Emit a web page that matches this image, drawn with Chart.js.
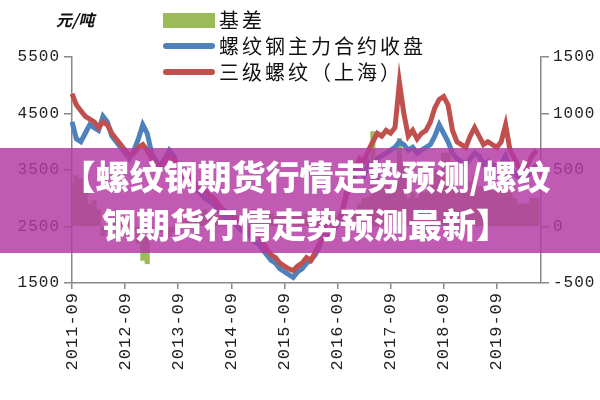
<!DOCTYPE html>
<html>
<head>
<meta charset="utf-8">
<script src="https://cdn.jsdelivr.net/npm/chart.js@4.4.0/dist/chart.umd.min.js"></script>
<style>
  body { margin: 0; background: #fff; }
  #wrap { position: relative; width: 600px; height: 400px; }
  #banner {
    position: absolute; left: 0; top: 148px; width: 600px; height: 105px;
    box-sizing: border-box; padding-top: 4px; padding-left: 12px;
    background: rgba(181, 56, 163, 0.83);
    color: #fff; font-family: "Noto Sans CJK SC"; font-weight: 900;
    font-size: 34px; line-height: 48px; text-align: center; white-space: nowrap;
  }
</style>
</head>
<body>
<div id="wrap">
  <canvas id="chart" width="600" height="400"></canvas>
  <div id="banner">【螺纹钢期货行情走势预测/螺纹<br>钢期货行情走势预测最新】</div>
</div>
<script>
// 月份: 2011-09 ... 2020-07
const months = [];
for (let y = 2011, m = 9; y < 2020 || m <= 7; m++) {
  if (m > 12) { m = 1; y++; }
  months.push(y + "-" + String(m).padStart(2, "0"));
}
const tickLabels = ["2011-09", "2012-09", "2013-09", "2014-09", "2015-09",
  "2016-09", "2017-09", "2018-09", "2019-09"];

const seriesNames = ["基差", "螺纹钢主力合约收盘", "三级螺纹（上海）"];
const seriesColors = ["#9bbb59", "#4f81bd", "#c0504d"];

// 三级螺纹（上海）现货, 元/吨
const spot = [
  4850, 4650, 4550, 4450, 4400, 4350, 4250, 4350, 4300, 4150,
  4050, 3950, 3850, 3750, 3800, 3900, 3950, 3850, 3700, 3600,
  3550, 3650, 3750, 3700, 3550, 3450, 3400, 3350, 3250, 3200,
  3150, 3050, 3000, 2900, 2800, 2750, 2700, 2650, 2550, 2500,
  2450, 2400, 2350, 2250, 2100, 2000, 1950, 1850, 1800, 1750,
  1720, 1800, 1850, 1950, 1900, 2050, 2200, 2500, 2400, 2450,
  2600, 2750, 3100, 3350, 3500, 3700, 3650, 3850, 4000, 4150,
  4100, 4200, 4150, 4250, 5050, 4500, 4100, 4200, 4050, 4150,
  4200, 4350, 4600, 4750, 4800, 4650, 4200, 4000, 3950, 3900,
  4100, 4250, 4100, 3950, 4000, 3950, 3900, 4000, 4300, 3850,
  3700, 3550, 3500, 3600, 3750, 3850
];

// 螺纹钢主力合约收盘
const futures = [
  4350, 4050, 4000, 4150, 4300, 4250, 4200, 4450, 4350, 4100,
  4000, 3900, 3800, 3700, 3850, 4050, 4300, 4150, 3800, 3650,
  3600, 3700, 3850, 3750, 3550, 3400, 3350, 3300, 3150, 3100,
  3000, 2950, 2900, 2800, 2700, 2650, 2600, 2550, 2450, 2400,
  2350, 2250, 2200, 2100, 2000, 1900, 1850, 1750, 1700, 1650,
  1600, 1700, 1750, 1850, 1900, 2000, 2150, 2450, 2300, 2400,
  2550, 2700, 3050, 3250, 3400, 3500, 3400, 3600, 3400, 3700,
  3750, 3800, 3850, 3900, 4000, 3950, 3850, 3900, 3800, 3850,
  3900, 3950, 4100, 4300, 4150, 4000, 3800, 3700, 3650, 3600,
  3700, 3800, 3750, 3600, 3650, 3600, 3550, 3600, 3750, 3550,
  3450, 3350, 3300, 3400, 3500, 3600
];

// 基差 (右轴)
const basis = [
  380, 450, 420, 300, 200, 230, 150, -80, -40, 60,
  50, 60, 40, 60, -40, -150, -300, -330, -100, -60,
  -50, -50, -80, -50, 20, 50, 60, 50, 100, 90,
  150, 110, 100, 100, 110, 100, 100, 90, 100, 110,
  100, 150, 140, 150, 100, 110, 90, 100, 100, 90,
  120, 100, 100, 110, 20, 40, 50, 50, 100, 60,
  50, 60, 50, 100, 120, 200, 250, 260, 840, 450,
  350, 400, 300, 350, 780, 550, 250, 300, 250, 300,
  300, 400, 500, 450, 650, 650, 400, 300, 300, 300,
  400, 450, 350, 350, 350, 350, 350, 400, 550, 300,
  250, 200, 200, 200, 250, 250
];

const tickFont = { family: "Liberation Mono", size: 16 };
const plainNumber = v => String(v);

// 图例和单位 (竖排, 画在图内)
const legendPlugin = {
  id: "sideLegend",
  beforeDraw(chart) {
    chart.ctx.letterSpacing = "1px";
  },
  afterDraw(chart) {
    const c = chart.ctx;
    c.save();
    c.textBaseline = "middle";
    c.fillStyle = "#111";
    c.letterSpacing = "0px";
    c.font = "italic bold 16px 'Noto Sans CJK SC'";
    c.fillText("元/吨", 56, 20);

    c.letterSpacing = "3px";
    c.font = "20px 'Noto Sans CJK SC'";
    const rowsY = [20, 46, 72];
    seriesNames.forEach((name, i) => {
      const y = rowsY[i];
      if (i === 0) {
        c.fillStyle = seriesColors[0];
        c.fillRect(163, y - 7, 52, 15);
      } else {
        c.strokeStyle = seriesColors[i];
        c.lineWidth = 6;
        c.lineCap = "round";
        c.beginPath();
        c.moveTo(166, y);
        c.lineTo(212, y);
        c.stroke();
      }
      c.fillStyle = "#111";
      c.fillText(name, 219, y);
    });
    c.restore();
  }
};

new Chart(document.getElementById("chart").getContext("2d"), {
  type: "line",
  data: {
    labels: months,
    datasets: [
      {
        label: seriesNames[2], data: spot, yAxisID: "y", order: 1,
        borderColor: seriesColors[2], borderWidth: 5, pointRadius: 0, tension: 0
      },
      {
        label: seriesNames[1], data: futures, yAxisID: "y", order: 2,
        borderColor: seriesColors[1], borderWidth: 5, pointRadius: 0, tension: 0
      },
      {
        type: "bar", label: seriesNames[0], data: basis, yAxisID: "y2", order: 3,
        backgroundColor: seriesColors[0], barPercentage: 1, categoryPercentage: 1
      }
    ]
  },
  options: {
    responsive: false,
    animation: false,
    layout: { padding: { top: 57, left: 0, right: 0, bottom: 0 } },
    plugins: { legend: { display: false }, tooltip: { enabled: false } },
    scales: {
      x: {
        offset: false,
        grid: { drawOnChartArea: false, offset: false, color: "#888", lineWidth: 1.5, tickLength: 6 },
        border: { color: "#888", width: 1.5 },
        ticks: {
          autoSkip: false, minRotation: 90, maxRotation: 90, padding: 3,
          color: "#222", font: { family: "Liberation Mono", size: 17 },
          callback: function (v) {
            const l = this.getLabelForValue(v);
            return tickLabels.includes(l) ? l : null;
          }
        },
        afterFit: s => { s.height = 117; }
      },
      y: {
        position: "left", min: 1500, max: 5500,
        grid: { drawOnChartArea: false, color: "#888", lineWidth: 1.5, tickLength: 8 },
        border: { color: "#888", width: 1.5 },
        ticks: { stepSize: 1000, padding: 4, color: "#222", font: tickFont, callback: plainNumber },
        afterFit: s => { s.width = 72; }
      },
      y2: {
        position: "right", min: -500, max: 1500,
        grid: { drawOnChartArea: false, color: "#888", lineWidth: 1.5, tickLength: 8 },
        border: { color: "#888", width: 1.5 },
        ticks: { stepSize: 500, padding: 4, color: "#222", font: tickFont, callback: plainNumber },
        afterFit: s => { s.width = 59; }
      }
    }
  },
  plugins: [legendPlugin]
});
</script>
</body>
</html>
